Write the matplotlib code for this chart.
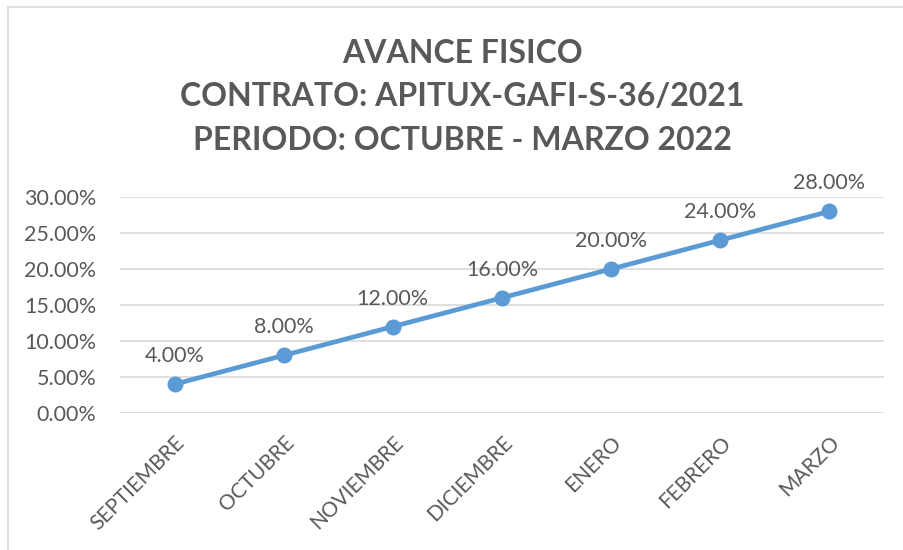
import matplotlib.pyplot as plt
from matplotlib.patches import Rectangle
from matplotlib.ticker import FuncFormatter

# Datos del avance
meses = ['SEPTIEMBRE', 'OCTUBRE', 'NOVIEMBRE', 'DICIEMBRE', 'ENERO', 'FEBRERO', 'MARZO']
avance = [0.04, 0.08, 0.12, 0.16, 0.20, 0.24, 0.28]
y_ticks = [0.0, 0.05, 0.10, 0.15, 0.20, 0.25, 0.30]
titulo = "AVANCE FISICO\nCONTRATO: APITUX-GAFI-S-36/2021\nPERIODO: OCTUBRE - MARZO 2022"

AZUL = '#5B9BD5'
GRIS_TXT = '#595959'
GRIS_GRID = '#D9D9D9'

plt.rcParams['font.family'] = ['Lato', 'DejaVu Sans']

fig = plt.figure(figsize=(9.04, 5.5), dpi=100)
fig.patches.append(Rectangle((8 / 904, -0.1), 1.2, 1 - 7 / 550 + 0.1,
                             transform=fig.transFigure, fill=False,
                             edgecolor=GRIS_GRID, linewidth=1.2))

ax = fig.add_axes([120 / 904, 1 - 413 / 550, 764 / 904, 216 / 550])
x = list(range(len(meses)))
ax.plot(x, avance, color=AZUL, linewidth=3.4, marker='o', markersize=10.5,
        solid_capstyle='round', zorder=3)

for xi, v in zip(x, avance):
    ax.annotate(f"{v * 100:.2f}%", (xi, v), xytext=(0, 13), textcoords='offset points',
                ha='center', va='bottom', fontsize=15.5, color=GRIS_TXT)

ax.set_xlim(-0.5, len(meses) - 0.5)
ax.set_ylim(0, 0.30)
ax.set_yticks(y_ticks)
ax.yaxis.set_major_formatter(FuncFormatter(lambda v, p: f"{v * 100:.2f}%"))
ax.set_xticks(x)
ax.set_xticklabels(meses, rotation=45, ha='right', rotation_mode='anchor')
ax.tick_params(axis='y', length=0, pad=17, labelsize=15.5, labelcolor=GRIS_TXT)
ax.tick_params(axis='x', length=0, pad=14, labelsize=15, labelcolor=GRIS_TXT)
ax.grid(axis='y', color=GRIS_GRID, linewidth=1.2)
ax.set_axisbelow(True)
for s in ax.spines.values():
    s.set_visible(False)

fig.text(462 / 904, 1 - 97 / 550, titulo, ha='center', va='center',
         fontsize=23, fontweight='bold', color=GRIS_TXT, linespacing=1.6)

fig.savefig('out.png', dpi=100)
